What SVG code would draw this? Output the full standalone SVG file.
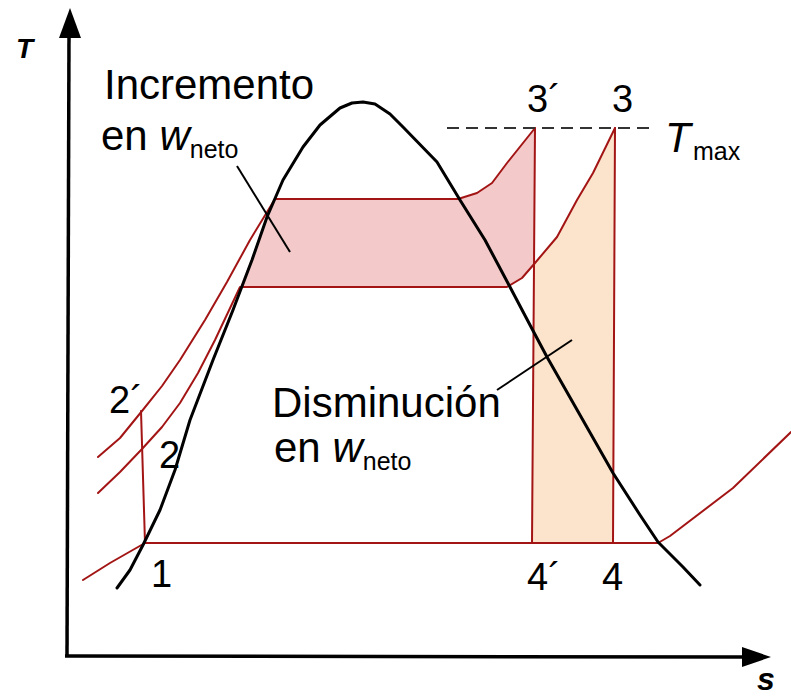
<svg xmlns="http://www.w3.org/2000/svg" width="791" height="696" viewBox="0 0 791 696">
<defs>
<style>
.red{fill:none;stroke:#a31515;stroke-width:2;stroke-linejoin:round;stroke-linecap:round}
.blk{fill:none;stroke:#000;stroke-width:3;stroke-linejoin:round;stroke-linecap:round}
.ax{fill:none;stroke:#000;stroke-width:3.5}
.lead{fill:none;stroke:#000;stroke-width:2}
.t{font-family:"Liberation Sans",Arial,sans-serif;fill:#000}
.big{font-size:42px}
.num{font-size:38px}
.sub{font-size:25px}
</style>
</defs>
<rect width="791" height="696" fill="#fff"/>
<g id="fills">
<polygon points="240,287 275,199 458,199 477,193 492,183 507,163 535,128 534,263 522,278 507,287" fill="#f3c9c9"/>
<polygon points="534,263 557,237 577,200 593,173 615,128 613,543 532,543" fill="#fce3cb"/>
</g>
<g id="cycle">
<polyline class="red" points="83,580 110,563 145,543 658,543 670,536 733,488 791,432"/>
<polyline class="red" points="145,543 141,411"/>
<polyline class="red" points="98,457 120,438 142,411 162,386 180,360 205,320 227,282 250,240 275,199 458,199 477,193 492,183 507,163 535,128"/>
<polyline class="red" points="98,493 120,472 142,449 162,427 180,403 198,373 215,340 240,287 507,287 522,278 535,263 557,237 577,200 593,173 615,128"/>
<polyline class="red" points="535,128 532,543"/>
<polyline class="red" points="615,128 613,543"/>
<line x1="447" y1="128" x2="650" y2="128" stroke="#333" stroke-width="2" stroke-dasharray="12,7"/>
</g>
<g id="dome">
<polyline class="blk" points="117,588 130,570 143,545 160,510 175,470 190,420 213,360 233,310 252,260 267,217 283,180 303,147 320,125 340,108 352,103 363,102 375,104 390,114 403,127 437,162 460,200 485,240 510,287 530,325 547,357 580,415 613,473 640,515 658,542 683,567 700,585"/>
</g>
<g id="axes">
<line class="ax" x1="67" y1="657" x2="69" y2="34"/>
<polygon points="70,8 59,38 81,38" fill="#000"/>
<line class="ax" x1="65" y1="656" x2="745" y2="657"/>
<polygon points="771,657 742,647 742,667" fill="#000"/>
<text class="t" x="16" y="58" font-size="28" font-weight="bold" font-style="italic">T</text>
<text class="t" x="757" y="690" font-size="32" font-weight="bold" font-style="italic">s</text>
</g>
<g id="connectors">
<line class="lead" x1="237" y1="166" x2="290" y2="252"/>
<line class="lead" x1="497" y1="390" x2="572" y2="340"/>
</g>
<g id="label-incremento">
<text class="t big" x="104" y="99">Incremento</text>
<text class="t big" x="101" y="150">en <tspan font-style="italic">w</tspan><tspan class="sub" dy="8">neto</tspan></text>
</g>
<g id="label-disminucion">
<text class="t big" x="272" y="417">Disminución</text>
<text class="t big" x="274" y="462">en <tspan font-style="italic">w</tspan><tspan class="sub" dy="8">neto</tspan></text>
</g>
<g id="label-tmax">
<text class="t big" x="665" y="152" font-style="italic">T</text>
<text class="t sub" x="693" y="160">max</text>
</g>
<g id="points">
<text class="t num" x="527" y="112">3´</text>
<text class="t num" x="612" y="112">3</text>
<text class="t num" x="109" y="413">2´</text>
<text class="t num" x="159" y="468">2</text>
<text class="t num" x="151" y="587">1</text>
<text class="t num" x="527" y="590">4´</text>
<text class="t num" x="602" y="590">4</text>
</g>
</svg>
